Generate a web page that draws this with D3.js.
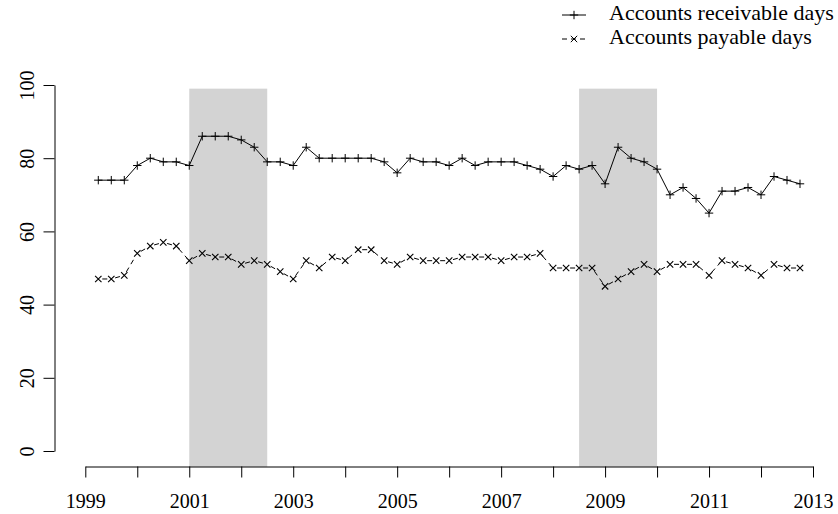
<!DOCTYPE html>
<html>
<head>
<meta charset="utf-8">
<script src="https://cdn.jsdelivr.net/npm/d3@7"></script>
<style>
  html, body { margin: 0; padding: 0; background: #fff; }
  svg { display: block; }
</style>
</head>
<body>
<svg id="chart" width="838" height="514"></svg>
<script>
// Quarterly observations, 1999Q2 – 2012Q4 (decimal years)
const quarters = [
  1999.25, 1999.5, 1999.75, 2000.0, 2000.25, 2000.5, 2000.75, 2001.0,
  2001.25, 2001.5, 2001.75, 2002.0, 2002.25, 2002.5, 2002.75, 2003.0,
  2003.25, 2003.5, 2003.75, 2004.0, 2004.25, 2004.5, 2004.75, 2005.0,
  2005.25, 2005.5, 2005.75, 2006.0, 2006.25, 2006.5, 2006.75, 2007.0,
  2007.25, 2007.5, 2007.75, 2008.0, 2008.25, 2008.5, 2008.75, 2009.0,
  2009.25, 2009.5, 2009.75, 2010.0, 2010.25, 2010.5, 2010.75, 2011.0,
  2011.25, 2011.5, 2011.75, 2012.0, 2012.25, 2012.5, 2012.75
];

const receivableDays = [
  74, 74, 74, 78, 80, 79, 79, 78,
  86, 86, 86, 85, 83, 79, 79, 78,
  83, 80, 80, 80, 80, 80, 79, 76,
  80, 79, 79, 78, 80, 78, 79, 79,
  79, 78, 77, 75, 78, 77, 78, 73,
  83, 80, 79, 77, 70, 72, 69, 65,
  71, 71, 72, 70, 75, 74, 73
];

const payableDays = [
  47, 47, 48, 54, 56, 57, 56, 52,
  54, 53, 53, 51, 52, 51, 49, 47,
  52, 50, 53, 52, 55, 55, 52, 51,
  53, 52, 52, 52, 53, 53, 53, 52,
  53, 53, 54, 50, 50, 50, 50, 45,
  47, 49, 51, 49, 51, 51, 51, 48,
  52, 51, 50, 48, 51, 50, 50
];

// Shaded periods [start, end]
const shadedPeriods = [[2001.0, 2002.5], [2008.5, 2010.0]];

const yearTicks = [1999, 2000, 2001, 2002, 2003, 2004, 2005, 2006, 2007, 2008, 2009, 2010, 2011, 2012, 2013];
const yearLabels = [1999, 2001, 2003, 2005, 2007, 2009, 2011, 2013];
const valueTicks = [0, 20, 40, 60, 80, 100];

const seriesNames = ["Accounts receivable days", "Accounts payable days"];

const FONT = "'Liberation Serif', 'Times New Roman', serif";

const svg = d3.select("#chart");

const x = d3.scaleLinear().domain([1999, 2013]).range([85.3, 813]);
const y = d3.scaleLinear().domain([0, 100]).range([451, 85]);

// Shaded periods
svg.append("g").selectAll("rect")
  .data(shadedPeriods)
  .join("rect")
  .attr("x", d => x(d[0]))
  .attr("width", d => x(d[1]) - x(d[0]))
  .attr("y", y(99))
  .attr("height", y(-4.3) - y(99))
  .attr("fill", "#d3d3d3");

// Axes
const xAxis = d3.axisBottom(x)
  .tickValues(yearTicks)
  .tickSize(11)
  .tickSizeOuter(0)
  .tickFormat(d => yearLabels.includes(d) ? String(d) : "");

const gx = svg.append("g")
  .attr("transform", "translate(0,466.5)")
  .call(xAxis);
gx.selectAll("text")
  .attr("y", 41).attr("dy", 0);

const yAxis = d3.axisLeft(y)
  .tickValues(valueTicks)
  .tickSize(11)
  .tickSizeOuter(0);

const gy = svg.append("g")
  .attr("transform", "translate(54.5,0)")
  .call(yAxis);
gy.selectAll("text")
  .attr("x", 0).attr("dy", 0)
  .attr("text-anchor", "middle")
  .attr("transform", "translate(-21,0) rotate(-90)");

[gx, gy].forEach(g => {
  g.attr("font-family", null).attr("font-size", null);
  g.selectAll("text")
    .style("font-family", FONT)
    .style("font-size", "20px")
    .attr("fill", "#000");
  g.selectAll("path, line").attr("stroke", "#000").attr("stroke-width", 1);
  g.select(".domain").attr("fill", "none");
});

// Marker shapes
const plusPath = (cx, cy, r = 4.2) =>
  `M${cx - r},${cy}H${cx + r}M${cx},${cy - r}V${cy + r}`;
const crossPath = (cx, cy, r = 3.2) =>
  `M${cx - r},${cy - r}L${cx + r},${cy + r}M${cx - r},${cy + r}L${cx + r},${cy - r}`;

const recv = quarters.map((q, i) => [x(q), y(receivableDays[i])]);
const pay = quarters.map((q, i) => [x(q), y(payableDays[i])]);

// Receivable days: solid line through the points
svg.append("path")
  .attr("d", d3.line()(recv))
  .attr("fill", "none")
  .attr("stroke", "#000")
  .attr("stroke-width", 1);

svg.append("g").selectAll("path")
  .data(recv)
  .join("path")
  .attr("d", d => plusPath(d[0], d[1]))
  .attr("stroke", "#000")
  .attr("stroke-width", 1)
  .attr("fill", "none");

// Payable days: dashed segments that stop short of each point
const gap = 4;
const paySegments = [];
for (let i = 0; i < pay.length - 1; i++) {
  const [x0, y0] = pay[i], [x1, y1] = pay[i + 1];
  const len = Math.hypot(x1 - x0, y1 - y0);
  if (len <= 2 * gap) continue;
  const ux = (x1 - x0) / len, uy = (y1 - y0) / len;
  paySegments.push([x0 + ux * gap, y0 + uy * gap, x1 - ux * gap, y1 - uy * gap]);
}
svg.append("g").selectAll("line")
  .data(paySegments)
  .join("line")
  .attr("x1", d => d[0]).attr("y1", d => d[1])
  .attr("x2", d => d[2]).attr("y2", d => d[3])
  .attr("stroke", "#000")
  .attr("stroke-width", 1)
  .attr("stroke-dasharray", "5,4");

svg.append("g").selectAll("path")
  .data(pay)
  .join("path")
  .attr("d", d => crossPath(d[0], d[1]))
  .attr("stroke", "#000")
  .attr("stroke-width", 1.1)
  .attr("fill", "none");

// Legend
const legend = svg.append("g");
const legendRows = [
  { name: seriesNames[0], y: 15, dash: null, marker: plusPath },
  { name: seriesNames[1], y: 39, dash: "5,4", marker: crossPath }
];
legendRows.forEach(r => {
  legend.append("line")
    .attr("x1", 562).attr("x2", 586)
    .attr("y1", r.y).attr("y2", r.y)
    .attr("stroke", "#000").attr("stroke-width", 1)
    .attr("stroke-dasharray", r.dash);
  legend.append("path")
    .attr("d", r.marker(574, r.y))
    .attr("stroke", "#000").attr("stroke-width", 1).attr("fill", "none");
  legend.append("text")
    .attr("x", 609).attr("y", r.y + 5)
    .style("font-family", FONT)
    .style("font-size", "22px")
    .text(r.name);
});
</script>
</body>
</html>
